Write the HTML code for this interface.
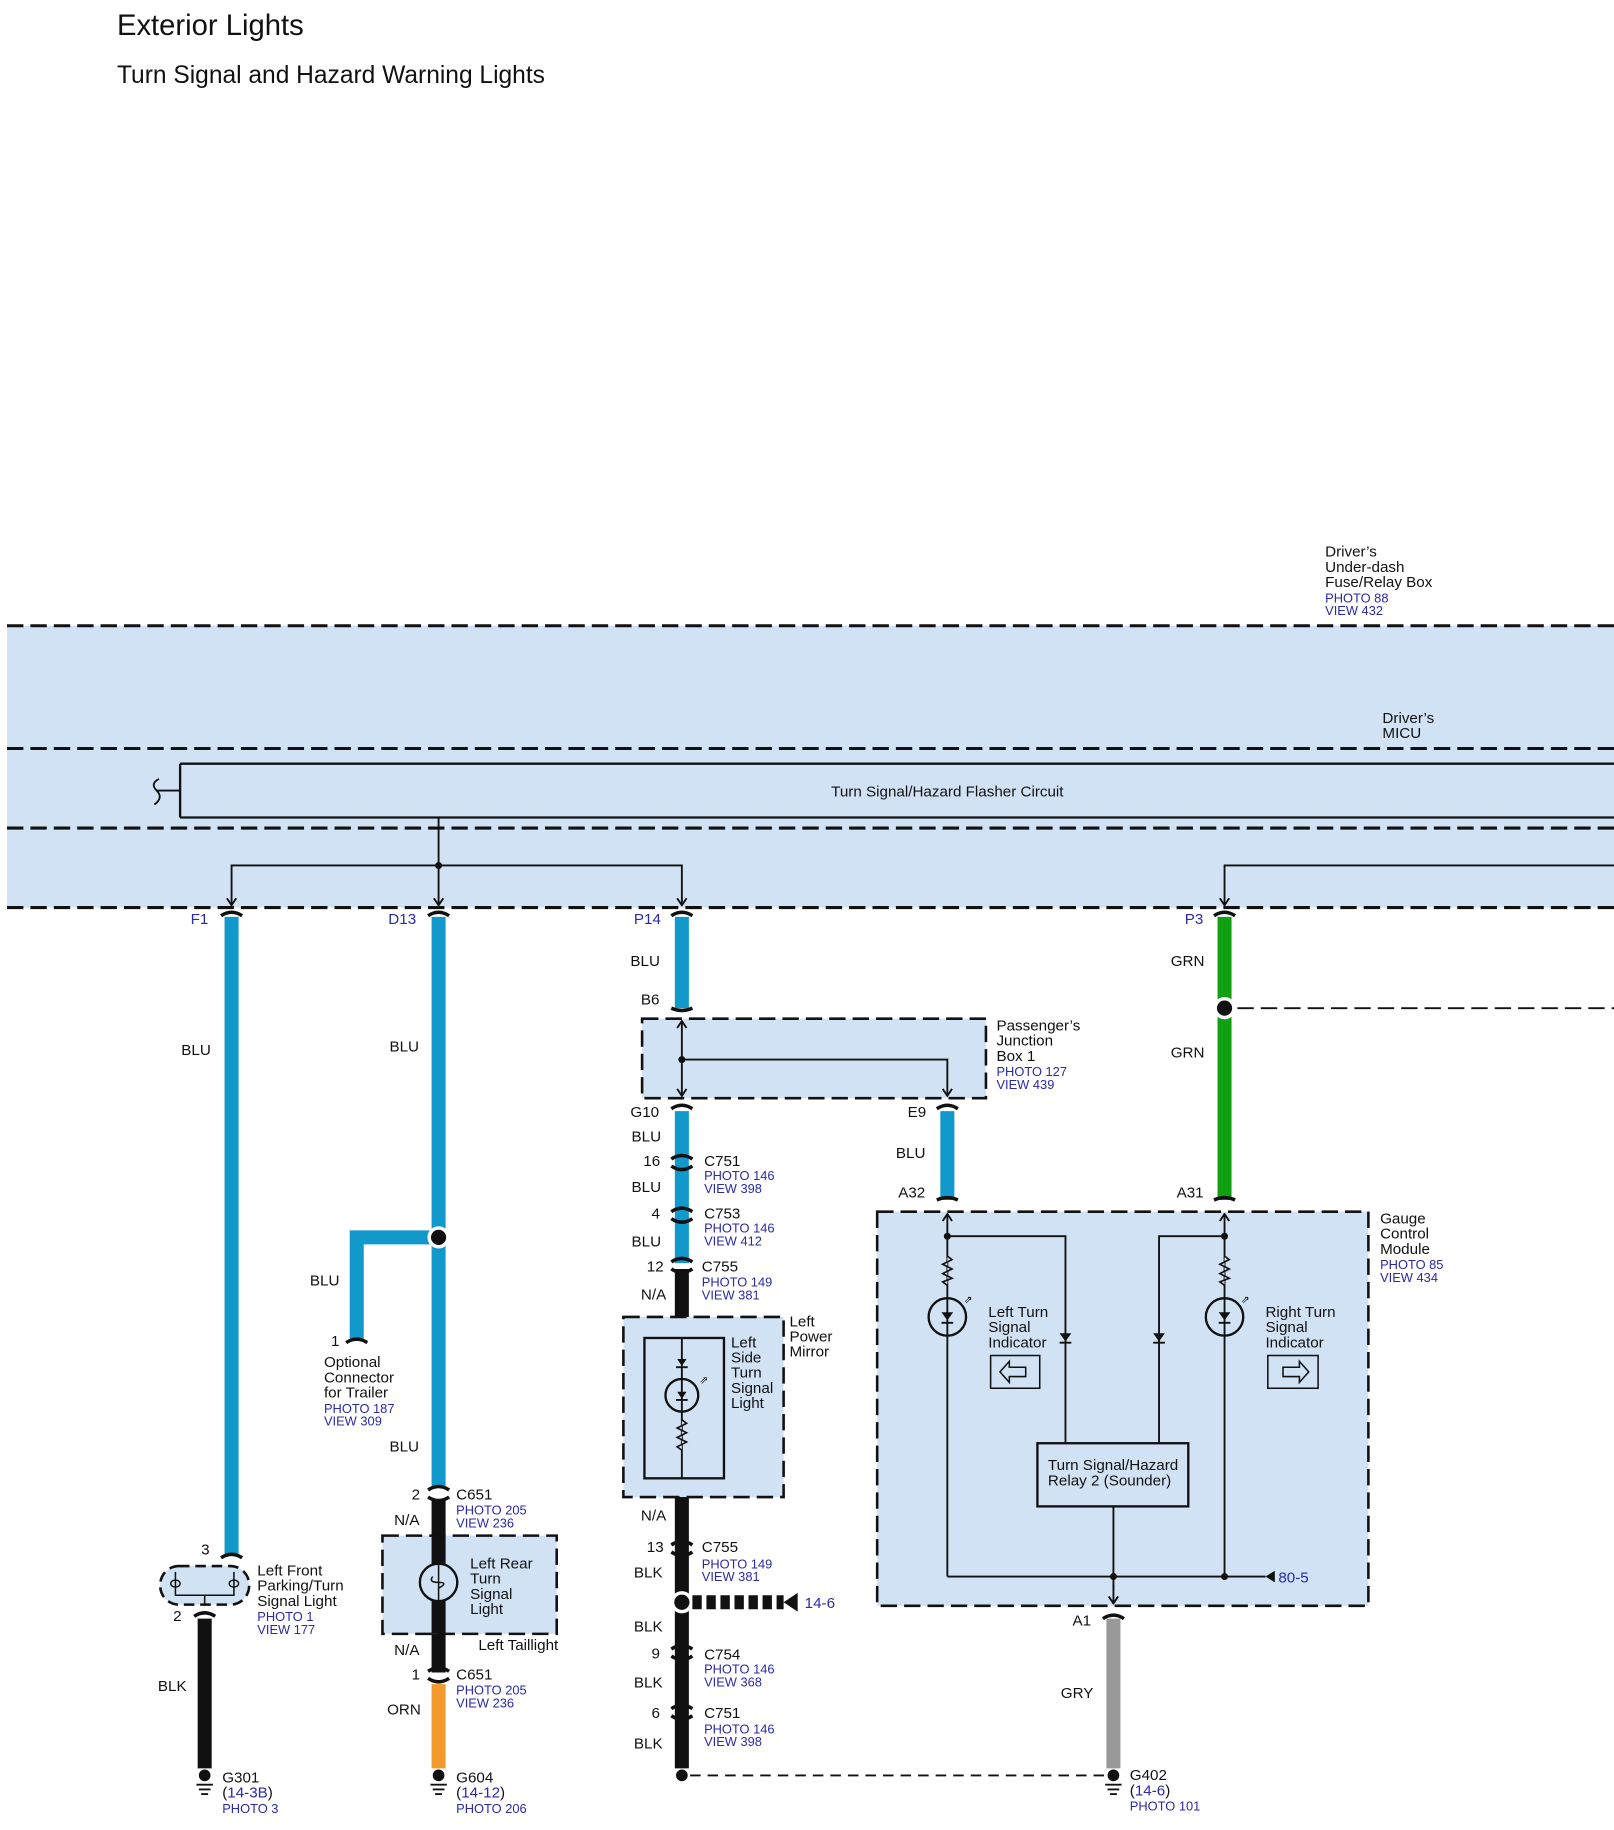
<!DOCTYPE html>
<html><head><meta charset="utf-8"><style>
html,body{margin:0;padding:0;background:#fff}
svg{display:block}
text{font-family:"Liberation Sans",Arial,sans-serif;font-size:13px;fill:#111}
.b{fill:#2a2aa8}
.t{fill:none;stroke:#111;stroke-width:1.6}
.d{fill:none;stroke:#111;stroke-width:2.6;stroke-dasharray:14 6}
.cap{fill:none;stroke:#111;stroke-width:3}
</style></head><body>
<svg width="1614" height="1830" viewBox="0 0 1380 1564.7" preserveAspectRatio="none" xmlns="http://www.w3.org/2000/svg">
<defs>
<marker id="ar" viewBox="0 0 10 10" refX="9" refY="5" markerWidth="10" markerHeight="10" orient="auto-start-reverse" markerUnits="userSpaceOnUse"><path d="M3,1 L9,5 L3,9" fill="none" stroke="#111" stroke-width="1.6"/></marker>
</defs>
<text x="100" y="30" style="font-size:25px">Exterior Lights</text>
<text x="100" y="71" style="font-size:21px">Turn Signal and Hazard Warning Lights</text>

<text x="1133" y="476">Driver’s</text><text x="1133" y="489">Under-dash</text><text x="1133" y="502">Fuse/Relay Box</text>
<text x="1133" y="515" class="b" style="font-size:11px">PHOTO 88</text><text x="1133" y="526" class="b" style="font-size:11px">VIEW 432</text>
<rect x="6" y="535" width="1380" height="241" fill="#d0e2f4"/>
<line x1="6" y1="535" x2="1380" y2="535" class="d"/>
<line x1="6" y1="640" x2="1380" y2="640" class="d"/>
<line x1="6" y1="708" x2="1380" y2="708" class="d"/>
<line x1="6" y1="776" x2="1380" y2="776" class="d"/>
<text x="1182" y="618">Driver’s</text><text x="1182" y="631">MICU</text>
<path d="M154,653 H1385 M154,699 H1385 M154,653 V699" class="t" style="stroke-width:2"/>
<path d="M136,666 Q128,670 134,676 Q140,682 132,688 M134,676 H154" class="t"/>
<text x="810" y="681" text-anchor="middle">Turn Signal/Hazard Flasher Circuit</text>
<path d="M375,699 V740" class="t"/>
<path d="M198,774 V740 H583 V774" class="t" marker-start="url(#ar)" marker-end="url(#ar)"/>
<path d="M375,740 V774" class="t" marker-end="url(#ar)"/>
<circle cx="375" cy="740" r="3" fill="#111"/>
<path d="M1380,740 H1047 V774" class="t" marker-end="url(#ar)"/>

<g stroke-width="12" fill="none">
<line x1="198" y1="784" x2="198" y2="1330" stroke="#1199cc"/>
<line x1="375" y1="784" x2="375" y2="1272" stroke="#1199cc"/>
<path d="M375,1058 H305 V1146" stroke="#1199cc"/>
<line x1="375" y1="1282" x2="375" y2="1430" stroke="#111"/>
<line x1="375" y1="1440" x2="375" y2="1512" stroke="#f39a2c"/>
<line x1="175" y1="1384" x2="175" y2="1512" stroke="#111"/>
<line x1="583" y1="784" x2="583" y2="862" stroke="#1199cc"/>
<line x1="583" y1="950" x2="583" y2="1080" stroke="#1199cc"/>
<line x1="583" y1="1085" x2="583" y2="1512" stroke="#111"/>
<line x1="810" y1="950" x2="810" y2="1026" stroke="#1199cc"/>
<line x1="1047" y1="784" x2="1047" y2="1026" stroke="#11a011"/>
<line x1="952" y1="1384" x2="952" y2="1512" stroke="#999"/>
</g>

<g class="cap">
<path d="M189,783 Q198,777 207,783"/><path d="M366,783 Q375,777 384,783"/><path d="M574,783 Q583,777 592,783"/><path d="M1038,783 Q1047,777 1056,783"/>
<path d="M574,862 Q583,866 592,862"/>
<path d="M574,948 Q583,942 592,948"/><path d="M801,948 Q810,942 819,948"/>
<path d="M574,991 Q583,985 592,991 M574,997 Q583,1003 592,997"/>
<path d="M574,1036 Q583,1030 592,1036 M574,1042 Q583,1048 592,1042"/>
<path d="M574,1079 Q583,1073 592,1079 M574,1085 Q583,1091 592,1085"/>
<path d="M574,1321 Q583,1315 592,1321 M574,1327 Q583,1333 592,1327"/>
<path d="M574,1410 Q583,1404 592,1410 M574,1416 Q583,1422 592,1416"/>
<path d="M574,1461 Q583,1455 592,1461 M574,1467 Q583,1473 592,1467"/>
<path d="M801,1026 Q810,1022 819,1026"/><path d="M1038,1026 Q1047,1022 1056,1026"/>
<path d="M943,1384 Q952,1378 961,1384"/>
<path d="M296,1148 Q305,1142 314,1148"/>
<path d="M366,1274 Q375,1268 384,1274 M366,1280 Q375,1286 384,1280"/>
<path d="M366,1429 Q375,1423 384,1429 M366,1435 Q375,1441 384,1435"/>
<path d="M189,1332 Q198,1326 207,1332"/><path d="M166,1382 Q175,1376 184,1382"/>
</g>
<circle cx="375" cy="1058" r="8" fill="#111" stroke="#fff" stroke-width="3"/>
<circle cx="1047" cy="862" r="8" fill="#111" stroke="#fff" stroke-width="3"/>
<line x1="1058" y1="862" x2="1380" y2="862" class="d" style="stroke-width:1.6"/>

<g class="b"><text x="163" y="790" class="b">F1</text><text x="332" y="790" class="b">D13</text><text x="542" y="790" class="b">P14</text><text x="1013" y="790" class="b">P3</text></g>
<text x="155" y="902">BLU</text><text x="333" y="899">BLU</text><text x="539" y="826">BLU</text><text x="1001" y="826">GRN</text><text x="1001" y="904">GRN</text>
<text x="548" y="859">B6</text>
<rect x="549" y="871" width="294" height="68" fill="#d0e2f4"/>
<rect x="549" y="871" width="294" height="68" class="d" style="stroke-width:2.2"/>
<path d="M583,873 V937" class="t" marker-start="url(#ar)" marker-end="url(#ar)"/>
<path d="M583,906 H810 V937" class="t" marker-end="url(#ar)"/><circle cx="583" cy="906" r="3" fill="#111"/>
<text x="852" y="881">Passenger’s</text><text x="852" y="894">Junction</text><text x="852" y="907">Box 1</text>
<text x="852" y="920" class="b" style="font-size:11px">PHOTO 127</text><text x="852" y="931" class="b" style="font-size:11px">VIEW 439</text>
<text x="539" y="955">G10</text><text x="776" y="955">E9</text>
<text x="540" y="976">BLU</text><text x="540" y="1019">BLU</text><text x="540" y="1066">BLU</text><text x="766" y="990">BLU</text>
<text x="550" y="997">16</text><text x="557" y="1042">4</text><text x="553" y="1087">12</text>
<text x="602" y="997">C751</text><text x="602" y="1009" class="b" style="font-size:11px">PHOTO 146</text><text x="602" y="1020" class="b" style="font-size:11px">VIEW 398</text>
<text x="602" y="1042">C753</text><text x="602" y="1054" class="b" style="font-size:11px">PHOTO 146</text><text x="602" y="1065" class="b" style="font-size:11px">VIEW 412</text>
<text x="600" y="1087">C755</text><text x="600" y="1100" class="b" style="font-size:11px">PHOTO 149</text><text x="600" y="1111" class="b" style="font-size:11px">VIEW 381</text>
<text x="548" y="1111">N/A</text>
<rect x="533" y="1126" width="137" height="154" fill="#d0e2f4"/>
<rect x="533" y="1126" width="137" height="154" class="d" style="stroke-width:2.2"/>
<rect x="551" y="1144" width="68" height="120" fill="#d0e2f4" stroke="#111" stroke-width="2"/>
<path d="M583,1144 V1264" class="t"/>
<circle cx="583" cy="1193" r="14" fill="none" stroke="#111" stroke-width="2"/>
<path d="M579,1162 h8 l-4,6 z M579,1190 h8 l-4,6 z" fill="#111"/><path d="M578,1169 h10 M578,1197 h10" class="t"/>
<path d="M583,1214 l4,3 -8,4 8,4 -8,4 8,4 -8,4 4,3" fill="#d0e2f4" stroke="#111" stroke-width="1.4"/>
<text x="598" y="1183" style="font-size:9px">⇗</text>
<text x="625" y="1152">Left</text><text x="625" y="1165">Side</text><text x="625" y="1178">Turn</text><text x="625" y="1191">Signal</text><text x="625" y="1204">Light</text>
<text x="675" y="1134">Left</text><text x="675" y="1147">Power</text><text x="675" y="1160">Mirror</text>
<text x="548" y="1300">N/A</text>
<text x="553" y="1327">13</text><text x="600" y="1327">C755</text><text x="600" y="1341" class="b" style="font-size:11px">PHOTO 149</text><text x="600" y="1352" class="b" style="font-size:11px">VIEW 381</text>
<text x="542" y="1349">BLK</text>
<circle cx="583" cy="1370" r="8" fill="#111" stroke="#fff" stroke-width="3"/>
<line x1="592" y1="1370" x2="670" y2="1370" stroke="#111" stroke-width="12" stroke-dasharray="8 4"/>
<path d="M670,1370 L682,1362 V1378 Z" fill="#111"/>
<text x="688" y="1375" class="b">14-6</text>
<text x="542" y="1395">BLK</text>
<text x="557" y="1418">9</text><text x="602" y="1419">C754</text><text x="602" y="1431" class="b" style="font-size:11px">PHOTO 146</text><text x="602" y="1442" class="b" style="font-size:11px">VIEW 368</text>
<text x="542" y="1443">BLK</text>
<text x="557" y="1469">6</text><text x="602" y="1469">C751</text><text x="602" y="1482" class="b" style="font-size:11px">PHOTO 146</text><text x="602" y="1493" class="b" style="font-size:11px">VIEW 398</text>
<text x="542" y="1495">BLK</text>
<circle cx="583" cy="1518" r="5" fill="#111"/>
<line x1="590" y1="1518" x2="945" y2="1518" class="d" style="stroke-width:1.6;stroke-dasharray:9 6"/>

<text x="768" y="1024">A32</text><text x="1006" y="1024">A31</text>
<rect x="750" y="1036" width="420" height="337" fill="#d0e2f4"/>
<rect x="750" y="1036" width="420" height="337" class="d" style="stroke-width:2.2"/>
<text x="1180" y="1046">Gauge</text><text x="1180" y="1059">Control</text><text x="1180" y="1072">Module</text>
<text x="1180" y="1085" class="b" style="font-size:11px">PHOTO 85</text><text x="1180" y="1096" class="b" style="font-size:11px">VIEW 434</text>
<g class="t">
<path d="M810,1348 V1038" marker-end="url(#ar)"/>
<path d="M1047,1348 V1038" marker-end="url(#ar)"/>
<path d="M810,1057 H911 V1234 M1047,1057 H991 V1234"/>
<path d="M810,1348 H1082 M952,1288 V1360" />
</g>
<path d="M952,1355 V1371" class="t" marker-end="url(#ar)"/>
<circle cx="810" cy="1057" r="3" fill="#111"/><circle cx="1047" cy="1057" r="3" fill="#111"/>
<circle cx="952" cy="1348" r="3" fill="#111"/><circle cx="1047" cy="1348" r="3" fill="#111"/>
<path d="M1082,1348 L1090,1343 V1353 Z" fill="#111"/><text x="1093" y="1353" class="b">80-5</text>
<g fill="#d0e2f4" stroke="#111" stroke-width="1.4">
<path d="M810,1074 l4,3 -8,4 8,4 -8,4 8,4 -8,3 4,3"/>
<path d="M1047,1074 l4,3 -8,4 8,4 -8,4 8,4 -8,3 4,3"/>
</g>
<circle cx="810" cy="1126" r="16" fill="none" stroke="#111" stroke-width="2"/>
<circle cx="1047" cy="1126" r="16" fill="none" stroke="#111" stroke-width="2"/>
<path d="M805,1122 h10 l-5,7 z M1042,1122 h10 l-5,7 z M906,1140 h10 l-5,7 z M986,1140 h10 l-5,7 z" fill="#111"/>
<path d="M805,1131 h10 M1042,1131 h10 M906,1148 h10 M986,1148 h10" class="t"/>
<text x="824" y="1114" style="font-size:9px">⇗</text><text x="1061" y="1114" style="font-size:9px">⇗</text>
<text x="845" y="1126">Left Turn</text><text x="845" y="1139">Signal</text><text x="845" y="1152">Indicator</text>
<text x="1082" y="1126">Right Turn</text><text x="1082" y="1139">Signal</text><text x="1082" y="1152">Indicator</text>
<rect x="847" y="1159" width="42" height="28" fill="none" stroke="#111" stroke-width="1.3"/>
<path d="M855,1173 l8,-9 v5 h14 v8 h-14 v5 z" fill="none" stroke="#111" stroke-width="1.3"/>
<rect x="1084" y="1159" width="43" height="28" fill="none" stroke="#111" stroke-width="1.3"/>
<path d="M1119,1173 l-8,-9 v5 h-14 v8 h14 v5 z" fill="none" stroke="#111" stroke-width="1.3"/>
<rect x="887" y="1234" width="129" height="54" fill="#d0e2f4" stroke="#111" stroke-width="2"/>
<text x="896" y="1257">Turn Signal/Hazard</text><text x="896" y="1270">Relay 2 (Sounder)</text>
<text x="917" y="1390">A1</text><text x="907" y="1452">GRY</text>
<g stroke="#111" stroke-width="1.6">
<line x1="168" y1="1526" x2="182" y2="1526"/><line x1="170" y1="1530" x2="180" y2="1530"/><line x1="172" y1="1534" x2="178" y2="1534"/>
<line x1="368" y1="1526" x2="382" y2="1526"/><line x1="370" y1="1530" x2="380" y2="1530"/><line x1="372" y1="1534" x2="378" y2="1534"/>
<line x1="945" y1="1526" x2="959" y2="1526"/><line x1="947" y1="1530" x2="957" y2="1530"/><line x1="949" y1="1534" x2="955" y2="1534"/>
</g>
<circle cx="175" cy="1518" r="5" fill="#111"/><circle cx="375" cy="1518" r="5" fill="#111"/><circle cx="952" cy="1518" r="5" fill="#111"/>
<text x="190" y="1524">G301</text><text x="190" y="1537">(<tspan class="b">14-3B</tspan>)</text><text x="190" y="1550" class="b" style="font-size:11px">PHOTO 3</text>
<text x="390" y="1524">G604</text><text x="390" y="1537">(<tspan class="b">14-12</tspan>)</text><text x="390" y="1550" class="b" style="font-size:11px">PHOTO 206</text>
<text x="966" y="1522">G402</text><text x="966" y="1535">(<tspan class="b">14-6</tspan>)</text><text x="966" y="1548" class="b" style="font-size:11px">PHOTO 101</text>
<text x="265" y="1099">BLU</text><text x="283" y="1151">1</text>
<text x="277" y="1169">Optional</text><text x="277" y="1182">Connector</text><text x="277" y="1195">for Trailer</text>
<text x="277" y="1208" class="b" style="font-size:11px">PHOTO 187</text><text x="277" y="1219" class="b" style="font-size:11px">VIEW 309</text>
<text x="333" y="1241">BLU</text>
<text x="352" y="1282">2</text><text x="390" y="1282">C651</text><text x="390" y="1295" class="b" style="font-size:11px">PHOTO 205</text><text x="390" y="1306" class="b" style="font-size:11px">VIEW 236</text>
<text x="337" y="1304">N/A</text>
<rect x="327" y="1313" width="149" height="84" fill="#d0e2f4"/>
<rect x="327" y="1313" width="149" height="84" class="d" style="stroke-width:2.2"/>
<line x1="375" y1="1313" x2="375" y2="1397" stroke="#111" stroke-width="12"/>
<circle cx="375" cy="1353" r="16" fill="#d0e2f4" stroke="#111" stroke-width="2"/>
<path d="M375,1337 V1369 M370,1348 q-4,5 5,5 q9,0 0,5" fill="none" stroke="#111" stroke-width="1.3"/>
<text x="402" y="1341">Left Rear</text><text x="402" y="1354">Turn</text><text x="402" y="1367">Signal</text><text x="402" y="1380">Light</text>
<text x="409" y="1411">Left Taillight</text>
<text x="337" y="1415">N/A</text>
<text x="352" y="1436">1</text><text x="390" y="1436">C651</text><text x="390" y="1449" class="b" style="font-size:11px">PHOTO 205</text><text x="390" y="1460" class="b" style="font-size:11px">VIEW 236</text>
<text x="331" y="1466">ORN</text>
<text x="172" y="1329">3</text><text x="148" y="1386">2</text>
<rect x="137" y="1339" width="76" height="33" rx="16" fill="#d0e2f4" stroke="#111" stroke-width="2.2" stroke-dasharray="9 5"/>
<path d="M150,1344 V1364 H200 V1344 M175,1364 V1372" fill="none" stroke="#111" stroke-width="1.3"/>
<ellipse cx="150" cy="1354" rx="4" ry="3" fill="none" stroke="#111" stroke-width="1.2"/><ellipse cx="200" cy="1354" rx="4" ry="3" fill="none" stroke="#111" stroke-width="1.2"/>
<text x="220" y="1347">Left Front</text><text x="220" y="1360">Parking/Turn</text><text x="220" y="1373">Signal Light</text>
<text x="220" y="1386" class="b" style="font-size:11px">PHOTO 1</text><text x="220" y="1397" class="b" style="font-size:11px">VIEW 177</text>
<text x="135" y="1446">BLK</text>
</svg>
</body></html>
